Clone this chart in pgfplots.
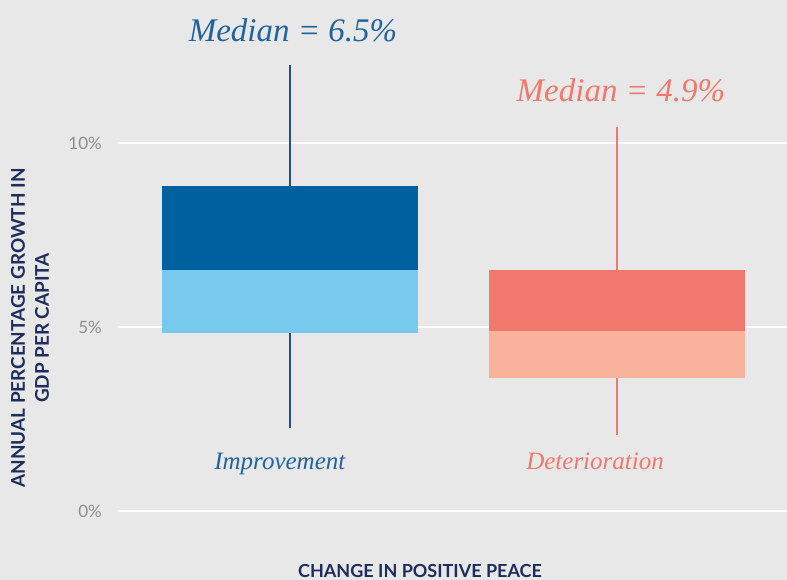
\documentclass[border=0pt]{standalone}
\usepackage{pgfplots}
\pgfplotsset{compat=1.18}
\usepackage{fontspec}
\setmainfont{Liberation Serif}
\newfontfamily\lato{Lato}
\definecolor{bgc}{HTML}{E8E8E8}
\definecolor{dblue}{HTML}{0061A0}
\definecolor{lblue}{HTML}{78C9EE}
\definecolor{dsal}{HTML}{F2776C}
\definecolor{lsal}{HTML}{F9B29C}
\definecolor{tblue}{HTML}{1F63A1}
\definecolor{wblue}{HTML}{1F4F80}
\definecolor{navy}{HTML}{1E2D5C}
\definecolor{tgray}{HTML}{8E8E8E}
\begin{document}
\begin{tikzpicture}
\fill[bgc] (0,0) rectangle (787bp,580bp);
\useasboundingbox (0,0) rectangle (787bp,580bp);
\begin{axis}[
  at={(118bp,69bp)}, anchor=south west,
  scale only axis, width=669bp, height=478.4bp,
  xmin=-0.526, xmax=1.520, ymin=0, ymax=13,
  clip=false,
  axis line style={draw=none},
  tick style={draw=none},
  xtick=\empty,
  ytick={0,5,10},
  yticklabels={0\%,5\%,10\%},
  yticklabel style={font=\lato\fontsize{17bp}{20bp}\selectfont, text=tgray, inner sep=0pt, xshift=-16bp},
  ymajorgrids,
  grid style={white, line width=1.2bp},
]
% whiskers
\addplot[wblue, line width=1.3bp] coordinates {(0,2.26) (0,12.12)};
\addplot[dsal, line width=1.3bp] coordinates {(1,2.07) (1,10.43)};
% Improvement box
\addplot[draw=none, fill=lblue] coordinates {(-0.3914,4.84) (0.3914,4.84) (0.3914,6.55) (-0.3914,6.55)} -- cycle;
\addplot[draw=none, fill=dblue] coordinates {(-0.3914,6.55) (0.3914,6.55) (0.3914,8.83) (-0.3914,8.83)} -- cycle;
% Deterioration box
\addplot[draw=none, fill=lsal] coordinates {(0.6086,3.62) (1.3914,3.62) (1.3914,4.90) (0.6086,4.90)} -- cycle;
\addplot[draw=none, fill=dsal] coordinates {(0.6086,4.90) (1.3914,4.90) (1.3914,6.55) (0.6086,6.55)} -- cycle;
% labels
\node[text=tblue, font=\itshape\fontsize{33bp}{36bp}\selectfont] at (axis cs:0.009,13.07) {Median = 6.5\%};
\node[text=dsal, font=\itshape\fontsize{33bp}{36bp}\selectfont] at (axis cs:1.012,11.44) {Median = 4.9\%};
\node[text=tblue, font=\itshape\fontsize{25bp}{28bp}\selectfont, anchor=base, inner sep=0pt] at (axis cs:-0.031,1.13) {Improvement};
\node[text=dsal, font=\itshape\fontsize{25bp}{28bp}\selectfont, anchor=base, inner sep=0pt] at (axis cs:0.933,1.13) {Deterioration};
\end{axis}
\node[text=navy, font=\lato\bfseries\fontsize{18.9bp}{24bp}\selectfont, rotate=90, align=center] at (30bp,252bp) {ANNUAL PERCENTAGE GROWTH IN\\GDP PER CAPITA};
\node[text=navy, font=\lato\bfseries\fontsize{18bp}{20bp}\selectfont, anchor=base, inner sep=0pt] at (420bp,3bp) {CHANGE IN POSITIVE PEACE};
\end{tikzpicture}
\end{document}
